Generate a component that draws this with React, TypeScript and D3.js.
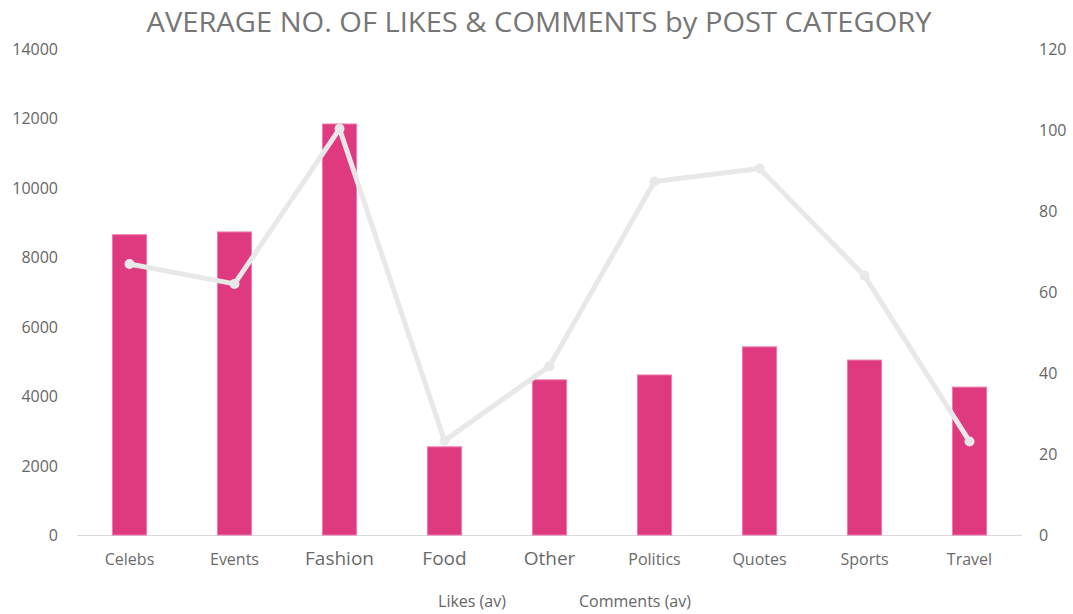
import React from "react";
import * as d3 from "d3";

const categories = ["Celebs", "Events", "Fashion", "Food", "Other", "Politics", "Quotes", "Sports", "Travel"];
const likes = [8650, 8730, 11840, 2540, 4470, 4610, 5420, 5040, 4260];
const comments = [66.9, 62, 100.3, 23.3, 41.7, 87.3, 90.5, 64, 23.1];
const leftTicks = [0, 2000, 4000, 6000, 8000, 10000, 12000, 14000];
const rightTicks = [0, 20, 40, 60, 80, 100, 120];
const largeLabels = ["Fashion", "Food", "Other"];

const W = 1073, H = 614;
const M = { left: 77, right: 1022, top: 49, bottom: 535 };
const FONT = "'Open Sans', 'Liberation Sans', sans-serif";

export default function App() {
  const x = d3.scaleBand<string>().domain(categories).range([M.left, M.right]).paddingInner(0.675).paddingOuter(0.3375);
  const yL = d3.scaleLinear().domain([0, 14000]).range([M.bottom, M.top]);
  const yR = d3.scaleLinear().domain([0, 120]).range([M.bottom, M.top]);
  const cx = (c: string) => (x(c) as number) + x.bandwidth() / 2;
  const line = d3.line<number>().x((_, i) => cx(categories[i])).y((d) => yR(d));

  return (
    <svg width={W} height={H} style={{ position: "absolute", left: 0, top: 0, background: "#fff" }}>
      <rect x={0} y={0} width={W} height={H} fill="#fff" />
      <text x={539} y={32} textAnchor="middle" fontFamily={FONT} fontSize={27} fill="#767676" textLength={785} lengthAdjust="spacingAndGlyphs">
        AVERAGE NO. OF LIKES &amp; COMMENTS by POST CATEGORY
      </text>
      <line x1={M.left} x2={M.right} y1={M.bottom + 0.5} y2={M.bottom + 0.5} stroke="#d9d9d9" strokeWidth={1} />
      {leftTicks.map((t) => (
        <text key={"l" + t} x={58} y={yL(t) + 6} textAnchor="end" fontFamily={FONT} fontSize={16} fill="#666">
          {t}
        </text>
      ))}
      {rightTicks.map((t) => (
        <text key={"r" + t} x={1039} y={yR(t) + 6} textAnchor="start" fontFamily={FONT} fontSize={16} fill="#666">
          {t}
        </text>
      ))}
      {categories.map((c, i) => (
        <rect key={c} x={x(c)} y={yL(likes[i])} width={x.bandwidth()} height={M.bottom - yL(likes[i])} fill="#DF3A80" stroke="#F07BAE" strokeWidth={1} />
      ))}
      <path d={line(comments) || ""} fill="none" stroke="#E8E8E8" strokeWidth={5} strokeLinejoin="round" />
      {comments.map((v, i) => (
        <circle key={i} cx={cx(categories[i])} cy={yR(v)} r={5} fill="#E8E8E8" />
      ))}
      {categories.map((c) => (
        <text key={"c" + c} x={cx(c)} y={largeLabels.includes(c) ? 565 : 565} textAnchor="middle" fontFamily={FONT} fontSize={largeLabels.includes(c) ? 19 : 16} fill="#6a6a6a">
          {c}
        </text>
      ))}
      <text x={472} y={607} textAnchor="middle" fontFamily={FONT} fontSize={16} fill="#666">Likes (av)</text>
      <text x={635} y={607} textAnchor="middle" fontFamily={FONT} fontSize={16} fill="#666">Comments (av)</text>
    </svg>
  );
}
